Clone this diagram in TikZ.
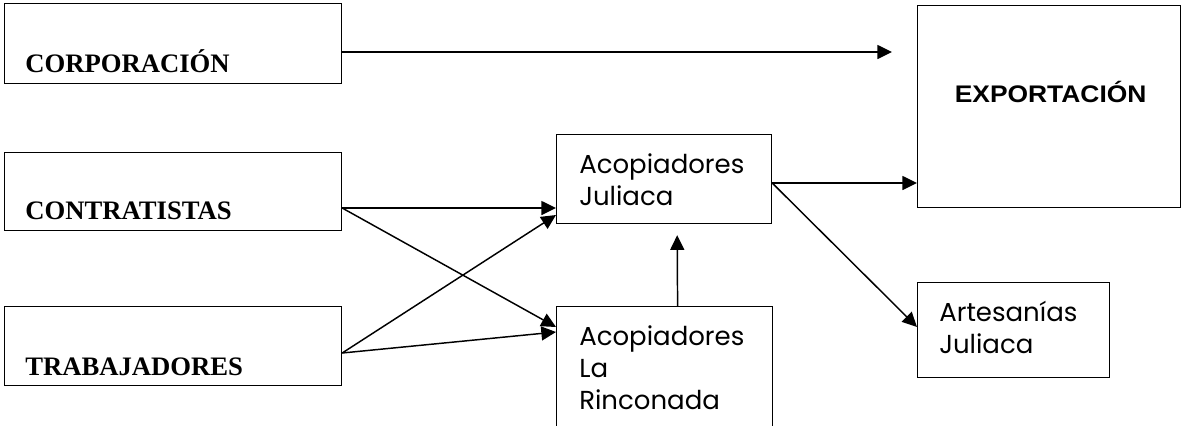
\documentclass[tikz,border=0pt]{standalone}
\usepackage{fontspec}
\setmainfont{Liberation Serif}
\newfontfamily\gotica{Poppins}
\newfontfamily\arial{Liberation Sans}
\usetikzlibrary{arrows.meta}

\begin{document}
\begin{tikzpicture}[x=0.75pt,y=-0.75pt,
	caja/.style={draw,line width=0.9pt,anchor=north west,inner sep=0pt},
	flecha/.style={line width=1.1pt,-{Triangle[length=11pt,width=10.5pt]}},
	serif/.style={anchor=base west,inner sep=0pt,font=\bfseries\fontsize{20}{23}\selectfont},
	gotic/.style={anchor=base west,inner sep=0pt,align=left,font=\gotica\fontsize{19.5}{24}\selectfont}]
	\useasboundingbox (0,0) rectangle (1181,425);
	\clip (0,0) rectangle (1181,425);
	\node[caja,minimum width=252.75pt,minimum height=60pt] (corp) at (4,3) {};
	\node[caja,minimum width=252.75pt,minimum height=58.5pt] (contr) at (4,152) {};
	\node[caja,minimum width=252.75pt,minimum height=59.25pt] (trab) at (4,306) {};
	\node[caja,minimum width=161.25pt,minimum height=66.75pt] (acju) at (556,134) {};
	\node[caja,minimum width=162pt,minimum height=100.5pt] (rinc) at (556,306) {};
	\node[caja,minimum width=197.25pt,minimum height=151.5pt] (expo) at (917,5) {};
	\node[caja,minimum width=144pt,minimum height=71.25pt] (arte) at (917,282) {};
	\node[serif] (tcorp) at ([shift={(21,-12)}]corp.south west) {CORPORACIÓN};
	\node[serif] (tcontr) at ([shift={(21,-12)}]contr.south west) {CONTRATISTAS};
	\node[serif] (ttrab) at ([shift={(21,-11)}]trab.south west) {TRABAJADORES};
	\node[anchor=base,font=\arial\bfseries\fontsize{18}{22}\selectfont] (texpo) at ([shift={(1.5,97)}]expo.north) {\scalebox{1.1}[1]{EXPORTACIÓN}};
	\node[gotic] (tacju) at ([shift={(23,71)}]acju.north west) {Acopiadores\\Juliaca};
	\node[gotic] (trinc) at ([shift={(23,103)}]rinc.north west) {Acopiadores\\La\\Rinconada};
	\node[gotic] (tarte) at ([shift={(22,71)}]arte.north west) {Artesanías\\Juliaca};
	\draw[flecha,shorten >=18.75pt] ([shift={(0,49)}]corp.north east) -- ([shift={(0,47)}]expo.north west);
	\draw[flecha] ([shift={(0,56)}]contr.north east) -- ([shift={(0,74)}]acju.north west);
	\draw[flecha] ([shift={(0,56)}]contr.north east) -- ([shift={(0,21)}]rinc.north west);
	\draw[flecha] ([shift={(0,47)}]trab.north east) -- ([shift={(0,81)}]acju.north west);
	\draw[flecha] ([shift={(0,47)}]trab.north east) -- ([shift={(0,26)}]rinc.north west);
	\draw[flecha] ([shift={(0,49)}]acju.north east) -- ([shift={(0,178)}]expo.north west);
	\draw[flecha] ([shift={(0,49)}]acju.north east) -- ([shift={(0,45)}]arte.north west);
	\draw[flecha,shorten >=8.25pt] ([shift={(13,0)}]rinc.north) -- ([shift={(13,0)}]acju.south);
\end{tikzpicture}
\end{document}
